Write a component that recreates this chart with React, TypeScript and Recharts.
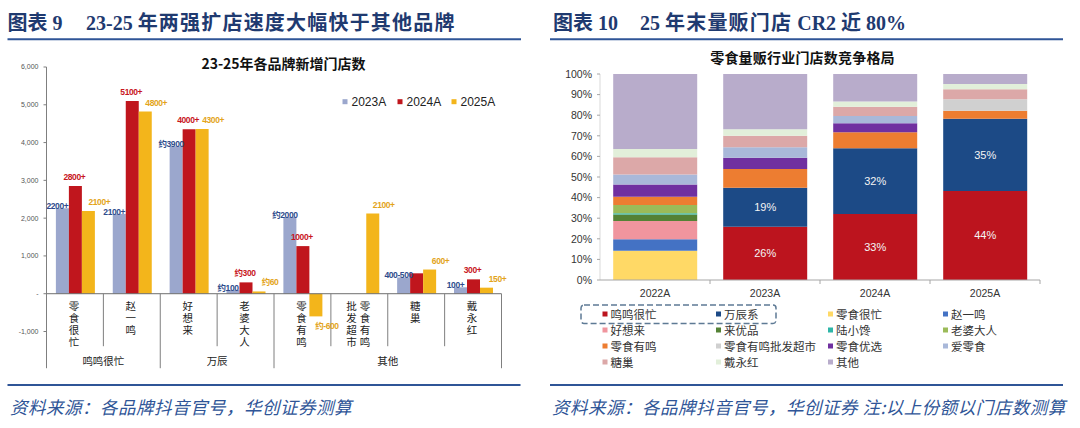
import React from 'react';
import { BarChart, Bar, XAxis, YAxis, LabelList, ReferenceLine } from 'recharts';

const CJK = "'Noto Sans CJK SC', 'Noto Sans', sans-serif";
const LATIN = "'Liberation Sans', Arial, 'Noto Sans CJK SC', sans-serif";
const TITLE_FONT = "'Liberation Serif', 'Noto Sans CJK SC', serif";
const NAVY = '#1F3A70';
const RULE = '#2F5597';

// ---------- Left chart data: new stores by brand ----------
const brandCategories = ['零食很忙', '赵一鸣', '好想来', '老婆大人', '零食有鸣', '零食有鸣批发超市', '糖巢', '戴永红'];
const groupNames = ['鸣鸣很忙', '万辰', '其他'];
const groupSizes = [2, 2, 4];
const seriesYears = ['2023A', '2024A', '2025A'];
const newStores2023 = [2260, 2110, 3900, 100, 2030, null, 430, 170];
const newStores2024 = [2850, 5100, 4350, 300, 1260, null, 540, 380];
const newStores2025 = [2190, 4820, 4360, 60, -600, 2120, 640, 160];
const labels2023 = ['2200+', '2100+', '约3900', '约100', '约2000', '', '400-500', '100+'];
const labels2024 = ['2800+', '5100+', '4000+', '约300', '1000+', '', '', '300+'];
const labels2025 = ['2100+', '4800+', '4300+', '约60', '约-600', '2100+', '600+', '150+'];
const leftTicks = [-1000, 0, 1000, 2000, 3000, 4000, 5000, 6000];

const seriesColors = ['#9BA7CD', '#C0161D', '#F3B51B'];
const seriesLabelColors = ['#2E4C8C', '#C8161D', '#E3A41A'];
const seriesLabelDx = [-5, -1, 11];
const seriesLabelDy = [-2, -9, -9];
const seriesValues = [newStores2023, newStores2024, newStores2025];

const leftData = brandCategories.map((name, i) => ({
  name,
  v0: newStores2023[i],
  v1: newStores2024[i],
  v2: newStores2025[i],
  l0: labels2023[i],
  l1: labels2024[i],
  l2: labels2025[i],
}));

// ---------- Right chart data: store share ----------
const shareYears = ['2022A', '2023A', '2024A', '2025A'];
const brandNames = ['鸣鸣很忙', '万辰系', '零食很忙', '赵一鸣', '好想来', '来优品', '陆小馋', '老婆大人', '零食有鸣', '零食有鸣批发超市', '零食优选', '爱零食', '糖巢', '戴永红', '其他'];
const share2022 = [0, 0, 14.2, 5.6, 8.8, 3.2, 0.6, 4.0, 4.0, 0, 6.0, 4.8, 8.4, 4.0, 36.4];
const share2023 = [25.9, 18.9, 0, 0, 0, 0, 0, 0, 9.1, 0, 5.5, 5.0, 5.6, 3.2, 26.8];
const share2024 = [32.0, 31.9, 0, 0, 0, 0, 0, 0, 7.8, 0, 4.4, 3.5, 4.5, 2.5, 13.4];
const share2025 = [43.2, 35.1, 0, 0, 0, 0, 0, 0, 3.9, 5.5, 0, 0, 4.9, 2.5, 4.9];
const cr1Labels = ['', '26%', '33%', '44%'];
const cr2Labels = ['', '19%', '32%', '35%'];
const rightTicks = [0, 10, 20, 30, 40, 50, 60, 70, 80, 90, 100];

const brandColors = ['#BC141E', '#1C4A86', '#FFD966', '#4472C4', '#F0959E', '#548235', '#2EB6A8', '#9BBB59', '#ED7D31', '#D0D0D0', '#7030A0', '#A9B8D9', '#DCA8A8', '#E2EFDA', '#B8ACCB'];

const shareRows = [share2022, share2023, share2024, share2025];
const rightData = shareYears.map((year, r) => {
  const row: Record<string, any> = { year, cr1: cr1Labels[r], cr2: cr2Labels[r] };
  brandNames.forEach((b, i) => {
    row[b] = shareRows[r][i];
  });
  return row;
});

// ---------- Layout ----------
const LEFT_W = 520;
const LEFT_H = 380;
const LEFT_TOP = 67;
const LEFT_PLOT_BOTTOM = 331.5;
const LEFT_Y_W = 46.5;
const LEFT_RIGHT = 18.5;

const RIGHT_X = 540;
const RIGHT_W = 520;
const RIGHT_H = 300;
const RIGHT_TOP = 74;
const RIGHT_PLOT_BOTTOM = 280;
const RIGHT_Y_W = 60;
const RIGHT_RIGHT = 20;

const CAT_FONT = 10.5;
const CAT_STEP = 12;

function LeftCategoryTick(props: any) {
  const { x, y, index, payload } = props;
  const plotH = LEFT_PLOT_BOTTOM - LEFT_TOP;
  const yMin = leftTicks[0];
  const yMax = leftTicks[leftTicks.length - 1];
  const zeroY = y - (plotH * (0 - yMin)) / (yMax - yMin);
  const bw = (LEFT_W - LEFT_Y_W - LEFT_RIGHT) / brandCategories.length;
  const starts: number[] = [];
  let acc = 0;
  groupSizes.forEach((s) => {
    starts.push(acc);
    acc += s;
  });
  const g = starts.indexOf(index);
  const text = String(payload.value);
  const cols: string[] = [];
  for (let k = 0; k < text.length; k += 4) cols.push(text.slice(k, k + 4));
  const colGap = 13.5;
  const elems: any[] = [];
  elems.push(
    <line key="sep" x1={x - bw / 2} x2={x - bw / 2} y1={zeroY} y2={zeroY + (g >= 0 ? 74.5 : 52.5)} stroke="#7F7F7F" strokeWidth={1} />
  );
  if (index === brandCategories.length - 1) {
    elems.push(<line key="sepEnd" x1={x + bw / 2} x2={x + bw / 2} y1={zeroY} y2={zeroY + 74.5} stroke="#7F7F7F" strokeWidth={1} />);
  }
  cols.forEach((col, k) => {
    const cx = x - 1 + ((cols.length - 1) / 2 - k) * colGap;
    elems.push(
      <text
        key={`c${k}`}
        x={cx}
        y={zeroY + CAT_STEP - CAT_FONT / 2}
        fontSize={CAT_FONT}
        fill="#222"
        fontFamily={CJK}
        style={{ writingMode: 'vertical-rl', letterSpacing: CAT_STEP - CAT_FONT } as any}
      >
        {col}
      </text>
    );
  });
  if (g >= 0) {
    elems.push(
      <text key="grp" x={x - bw / 2 + (groupSizes[g] * bw) / 2} y={zeroY + 67} textAnchor="middle" dominantBaseline="central" fontSize={10.5} fill="#222" fontFamily={CJK}>
        {groupNames[g]}
      </text>
    );
  }
  return <g>{elems}</g>;
}

function makeBarLabel(s: number) {
  return (props: any) => {
    const vb = props.viewBox || props;
    const { x, y, width, height } = vb;
    const value = props.value;
    const idx = props.index;
    if (value === undefined || value === null || value === '') return null;
    if (x === undefined || y === undefined) return null;
    const h = height || 0;
    const top = Math.min(y, y + h);
    const bottom = Math.max(y, y + h);
    const raw = seriesValues[s][idx];
    const neg = typeof raw === 'number' && raw < 0;
    const cx = x + width / 2 + seriesLabelDx[s];
    const cy = neg ? bottom + 10 : top + seriesLabelDy[s];
    return (
      <text x={cx} y={cy} textAnchor="middle" dominantBaseline="central" fontSize={8.5} fontWeight="bold" fill={seriesLabelColors[s]} fontFamily={LATIN} style={{ letterSpacing: -0.4 }}>
        {value}
      </text>
    );
  };
}

function RightYearTick(props: any) {
  const { x, y, payload } = props;
  const bw = (RIGHT_W - RIGHT_Y_W - RIGHT_RIGHT) / shareYears.length;
  return (
    <g>
      <line x1={x + bw / 2} x2={x + bw / 2} y1={y} y2={y + 4} stroke="#A6A6A6" />
      <text x={x} y={y + 13} textAnchor="middle" dominantBaseline="central" fontSize={10.5} fill="#333" fontFamily={LATIN}>
        {payload.value}
      </text>
    </g>
  );
}

const legendColX = [602.5, 716, 828, 943];
const legendRowY = [314, 330, 346, 362];

export default function App() {
  const leftLegendX = [342.5, 397.5, 451.5];
  return (
    <div style={{ position: 'absolute', left: 0, top: 0, width: 1080, height: 428, background: '#fff', overflow: 'hidden', fontFamily: CJK }}>
      <div style={{ position: 'absolute', left: 0, top: 0 }}>
        <BarChart
          width={LEFT_W}
          height={LEFT_H}
          data={leftData}
          margin={{ top: LEFT_TOP, right: LEFT_RIGHT, left: 0, bottom: 0 }}
          barCategoryGap="16.5%"
          barGap={0}
        >
          <YAxis
            width={LEFT_Y_W}
            domain={[leftTicks[0], leftTicks[leftTicks.length - 1]]}
            ticks={leftTicks}
            interval={0}
            tickFormatter={(v: number) => (v === 0 ? '-' : v.toLocaleString('en-US'))}
            tick={{ fontSize: 7, fill: '#555', fontFamily: LATIN }}
            tickSize={3}
            tickMargin={5}
            axisLine={{ stroke: '#7F7F7F' }}
            tickLine={{ stroke: '#7F7F7F' }}
          />
          <XAxis
            dataKey="name"
            height={LEFT_H - LEFT_PLOT_BOTTOM}
            axisLine={false}
            tickLine={false}
            tickSize={0}
            tickMargin={0}
            interval={0}
            tick={<LeftCategoryTick />}
          />
          {seriesYears.map((yr, s) => (
            <Bar key={yr} dataKey={`v${s}`} name={yr} fill={seriesColors[s]} isAnimationActive={false}>
              <LabelList dataKey={`l${s}`} content={makeBarLabel(s)} />
            </Bar>
          ))}
          <ReferenceLine y={0} stroke="#6F6F6F" strokeWidth={1} />
        </BarChart>
      </div>

      <div style={{ position: 'absolute', left: RIGHT_X, top: 0 }}>
        <BarChart
          width={RIGHT_W}
          height={RIGHT_H}
          data={rightData}
          margin={{ top: RIGHT_TOP, right: RIGHT_RIGHT, left: 0, bottom: 0 }}
          barCategoryGap="12%"
        >
          <YAxis
            width={RIGHT_Y_W}
            domain={[0, 100]}
            ticks={rightTicks}
            interval={0}
            tickFormatter={(v: number) => `${v}%`}
            tick={{ fontSize: 10.5, fill: '#333', fontFamily: LATIN }}
            tickSize={3}
            tickMargin={5}
            axisLine={{ stroke: '#D9D9D9' }}
            tickLine={{ stroke: '#A6A6A6' }}
          />
          <XAxis
            dataKey="year"
            height={RIGHT_H - RIGHT_PLOT_BOTTOM}
            axisLine={{ stroke: '#A6A6A6' }}
            tickLine={false}
            tickSize={0}
            tickMargin={0}
            interval={0}
            tick={<RightYearTick />}
          />
          {brandNames.map((b, i) => (
            <Bar key={b} dataKey={b} stackId="share" fill={brandColors[i]} isAnimationActive={false}>
              {i === 0 ? <LabelList dataKey="cr1" position="center" fill="#F4F4F4" fontSize={11} fontFamily={LATIN} /> : null}
              {i === 1 ? <LabelList dataKey="cr2" position="center" fill="#F4F4F4" fontSize={11} fontFamily={LATIN} /> : null}
            </Bar>
          ))}
        </BarChart>
      </div>

      <svg width={1080} height={428} style={{ position: 'absolute', left: 0, top: 0, pointerEvents: 'none' }}>
        {/* Panel titles */}
        <text x={7.6} y={23} dominantBaseline="central" fontSize={20} fontWeight="bold" fill={NAVY} fontFamily={TITLE_FONT}>
          图表 9
        </text>
        <text x={86} y={23} dominantBaseline="central" fontSize={20} fontWeight="bold" fill={NAVY} fontFamily={TITLE_FONT}>
          <tspan>23-25 </tspan>
          <tspan style={{ letterSpacing: 1.2 }}>年两强扩店速度大幅快于其他品牌</tspan>
        </text>
        <text x={553} y={23} dominantBaseline="central" fontSize={20} fontWeight="bold" fill={NAVY} fontFamily={TITLE_FONT}>
          图表 10
        </text>
        <text x={640} y={23} dominantBaseline="central" fontSize={20} fontWeight="bold" fill={NAVY} fontFamily={TITLE_FONT}>
          <tspan>25 </tspan>
          <tspan style={{ letterSpacing: 1.2 }}>年末量贩门店</tspan>
          <tspan> CR2 </tspan>
          <tspan>近</tspan>
          <tspan> 80%</tspan>
        </text>
        <line x1={7.5} x2={521} y1={39.3} y2={39.3} stroke={RULE} strokeWidth={2} />
        <line x1={550} x2={1063} y1={39.3} y2={39.3} stroke={RULE} strokeWidth={2} />

        {/* Chart titles */}
        <text x={283.5} y={63.3} textAnchor="middle" dominantBaseline="central" fontSize={14} fontWeight="bold" fill="#111" fontFamily={CJK}>
          23-25年各品牌新增门店数
        </text>
        <text x={802.5} y={56.7} textAnchor="middle" dominantBaseline="central" fontSize={14} fontWeight="bold" fill="#111" fontFamily={CJK} style={{ letterSpacing: 0.2 }}>
          零食量贩行业门店数竞争格局
        </text>

        {/* Left legend */}
        {seriesYears.map((yr, s) => (
          <g key={yr}>
            <rect x={leftLegendX[s]} y={101.7 - 2.5} width={5} height={5} fill={seriesColors[s]} />
            <text x={leftLegendX[s] + 9} y={101.7} dominantBaseline="central" fontSize={12} fill="#222" fontFamily={LATIN}>
              {yr}
            </text>
          </g>
        ))}

        {/* Right legend */}
        {brandNames.map((b, i) => {
          const col = i % 4;
          const row = Math.floor(i / 4);
          const mx = legendColX[col];
          const my = legendRowY[row];
          return (
            <g key={b}>
              <rect x={mx} y={my - 2.5} width={5} height={5} fill={brandColors[i]} />
              <text x={mx + 8} y={my} dominantBaseline="central" fontSize={11.5} fill="#333" fontFamily={CJK}>
                {b}
              </text>
            </g>
          );
        })}
        <rect x={581} y={305} width={195} height={18.4} rx={3} fill="none" stroke="#5E7A95" strokeWidth={1.5} strokeDasharray="6 3" />

        {/* Bottom rules and sources */}
        <line x1={7.5} x2={520.5} y1={385} y2={385} stroke={RULE} strokeWidth={2} />
        <line x1={550} x2={1063} y1={385} y2={385} stroke={RULE} strokeWidth={2} />
        <text x={10} y={406.5} dominantBaseline="central" fontSize={17.5} fontStyle="italic" fill={RULE} fontFamily={CJK} style={{ letterSpacing: 0.5 }}>
          资料来源：各品牌抖音官号，华创证券测算
        </text>
        <text x={552} y={406} dominantBaseline="central" fontSize={17.5} fontStyle="italic" fill={RULE} fontFamily={CJK} style={{ letterSpacing: 0.5 }}>
          资料来源：各品牌抖音官号，华创证券 注:以上份额以门店数测算
        </text>
      </svg>
    </div>
  );
}
